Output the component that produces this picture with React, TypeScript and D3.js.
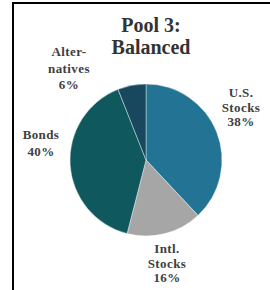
import React from 'react';
import * as d3 from 'd3';

const categories = ['U.S. Stocks', 'Intl. Stocks', 'Bonds', 'Alternatives'];
const shares = [38, 16, 40, 6];
const colors = ['#237494', '#a6a6a6', '#0f585d', '#18485d'];
const titleLines = ['Pool 3:', 'Balanced'];
const labelLines = [
  ['U.S.', 'Stocks', '38%'],
  ['Intl.', 'Stocks', '16%'],
  ['Bonds', '40%'],
  ['Alter-', 'natives', '6%'],
];

// where each label block sits (first baseline) and its line step
const labelPos = [
  { x: 241, y: 97, step: 14.5 },
  { x: 167, y: 253, step: 14.5 },
  { x: 41, y: 139, step: 17 },
  { x: 69, y: 56, step: 16.5 },
];

const W = 270;
const H = 290;
const cx = 146;
const cy = 160;
const radius = 76;

export default function App() {
  const pie = d3.pie<number>().sort(null).value(d => d);
  const arcs = pie(shares);
  const arc = d3.arc<d3.PieArcDatum<number>>().innerRadius(0).outerRadius(radius);

  return (
    <svg width={W} height={H} style={{ position: 'absolute', left: 0, top: 0 }}
      fontFamily="'Liberation Serif', 'Times New Roman', serif" fontWeight="bold">
      <rect x={0} y={0} width={W} height={H} fill="#fff" />
      <rect x={13} y={3} width={300} height={320} fill="none" stroke="#000" strokeWidth={2} />

      {titleLines.map((t, i) => (
        <text key={t} x={151} y={32 + i * 22} textAnchor="middle" fontSize={20} fill="#333">{t}</text>
      ))}

      <g transform={`translate(${cx},${cy})`}>
        {arcs.map((a, i) => (
          <path key={categories[i]} d={arc(a) || ''} fill={colors[i]} stroke="#fff" strokeWidth={0.4} />
        ))}
      </g>

      {labelLines.map((lines, i) => (
        <text key={categories[i]} textAnchor="middle" fontSize={13} fill="#404040" letterSpacing={0.4}>
          {lines.map((l, j) => (
            <tspan key={j} x={labelPos[i].x} y={labelPos[i].y + j * labelPos[i].step}>{l}</tspan>
          ))}
        </text>
      ))}
    </svg>
  );
}
